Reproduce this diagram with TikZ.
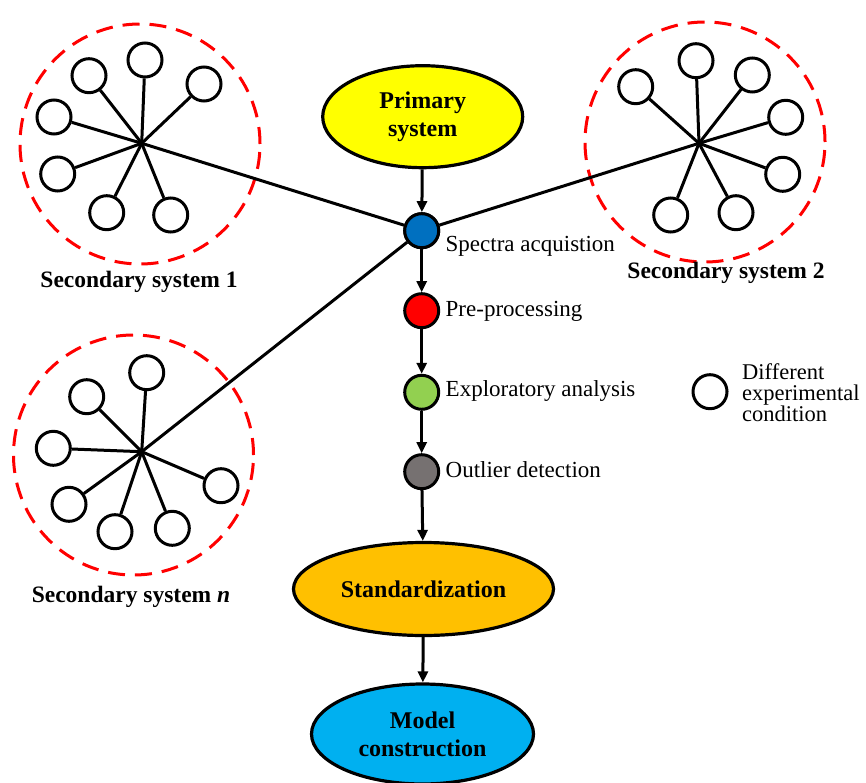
\documentclass[tikz,border=0pt]{standalone}
\usepackage{fontspec}
\setmainfont{Liberation Serif}
\usetikzlibrary{shapes.geometric,arrows.meta}
\definecolor{cyel}{HTML}{FFFF00}
\definecolor{cblue}{HTML}{0070C0}
\definecolor{cred}{HTML}{FF0000}
\definecolor{cgreen}{HTML}{92D050}
\definecolor{cgray}{HTML}{767171}
\definecolor{corange}{HTML}{FFC000}
\definecolor{ccyan}{HTML}{00B0F0}
\begin{document}
\begin{tikzpicture}[x=1pt,y=-1pt,
  cond/.style={circle,draw=black,fill=white,line width=3pt,minimum size=34pt,inner sep=0pt},
  spoke/.style={line width=3pt,draw=black},
  halo/.style={circle,draw=cred,line width=3pt,dash pattern=on 17pt off 10pt,minimum size=240pt,inner sep=0pt},
  stepdot/.style={circle,draw=black,line width=3pt,minimum size=34pt,inner sep=0pt},
  bigell/.style={ellipse,draw=black,line width=3.2pt,inner sep=0pt,align=center,font=\fontsize{24}{28}\selectfont\bfseries},
  lab/.style={font=\fontsize{23}{25}\selectfont,anchor=west,inner sep=0pt},
  blab/.style={font=\fontsize{23.5}{25}\selectfont\bfseries,inner sep=0pt},
  arr/.style={line width=3pt,-{Triangle[length=11pt,width=10pt]}}]
\useasboundingbox (0,0) rectangle (866,783);

% dashed halos
\node[halo] (h1) at (140,144) {};
\node[halo] (h2) at (705,142) {};
\node[halo] (hn) at (133.5,455) {};

% central column
\node[bigell,fill=cyel,minimum width=200pt,minimum height=102pt] (prim) at (422.7,116.7) {Primary\\system};
\node[stepdot,fill=cblue] (spec) at (421.7,230.7) {};
\node[stepdot,fill=cred] (pre) at (421.7,310.7) {};
\node[stepdot,fill=cgreen] (expl) at (421.7,392.3) {};
\node[stepdot,fill=cgray] (outl) at (421.7,471.7) {};
\node[bigell,fill=corange,minimum width=260pt,minimum height=93pt] (stand) at (423.5,589) {Standardization};
\node[bigell,fill=ccyan,minimum width=222pt,minimum height=100pt] (model) at (422.5,734) {Model\\construction};

% star centres
\coordinate (c1) at (141.7,143.3);
\coordinate (c2) at (699,143.3);
\coordinate (cn) at (141.7,451.7);

% connectors to spectra acquisition
\draw[spoke] (c1) -- (spec);
\draw[spoke] (c2) -- (spec);
\draw[spoke] (cn) -- (spec);

% cluster 1
\node[cond] (a1) at (145,60) {};
\node[cond] (a2) at (89,75.7) {};
\node[cond] (a3) at (204,84) {};
\node[cond] (a4) at (54,117) {};
\node[cond] (a5) at (57.7,174) {};
\node[cond] (a6) at (106.7,212.7) {};
\node[cond] (a7) at (170.7,215) {};
\foreach \n in {a1,a2,a3,a4,a5,a6,a7} \draw[spoke] (c1) -- (\n);

% cluster 2
\node[cond] (b1) at (696,60.7) {};
\node[cond] (b2) at (635.7,86.7) {};
\node[cond] (b3) at (752.3,75) {};
\node[cond] (b4) at (785.7,117.3) {};
\node[cond] (b5) at (782.7,174.3) {};
\node[cond] (b6) at (736,212.7) {};
\node[cond] (b7) at (670.7,215) {};
\foreach \n in {b1,b2,b3,b4,b5,b6,b7} \draw[spoke] (c2) -- (\n);

% cluster n
\node[cond] (d1) at (146.7,372.7) {};
\node[cond] (d2) at (86.7,396.7) {};
\node[cond] (d3) at (53.3,448.3) {};
\node[cond] (d4) at (69,504.3) {};
\node[cond] (d5) at (115,531.7) {};
\node[cond] (d6) at (172.3,528.3) {};
\node[cond] (d7) at (221,485.7) {};
\foreach \n in {d1,d2,d3,d4,d5,d6,d7} \draw[spoke] (cn) -- (\n);

% redraw blue node on top of connectors
\node[stepdot,fill=cblue] at (spec) {};

% arrows
\draw[arr] (prim) -- (spec);
\draw[arr] (spec) -- (pre);
\draw[arr] (pre) -- (expl);
\draw[arr] (expl) -- (outl);
\draw[arr] (outl) -- (stand);
\draw[arr] (stand) -- (model);

% step labels
\node[lab] (tspec) at (445.5,246) {Spectra acquistion};
\node[lab] (tpre) at (445.5,311) {Pre-processing};
\node[lab] (texpl) at (445.5,391.5) {Exploratory analysis};
\node[lab] (toutl) at (445.5,470) {Outlier detection};

% system labels
\node[blab] (s1) at (139,281.5) {Secondary system 1};
\node[blab] (s2) at (726,273) {Secondary system 2};
\node[blab] (sn) at (131,597) {Secondary system \textit{n}};

% legend
\node[cond] (leg) at (710,391.7) {};
\node[anchor=west,align=left,inner sep=0pt,font=\fontsize{22.5}{21}\selectfont] (legt) at (742,392.7) {Different\\experimental\\condition};
\end{tikzpicture}
\end{document}
